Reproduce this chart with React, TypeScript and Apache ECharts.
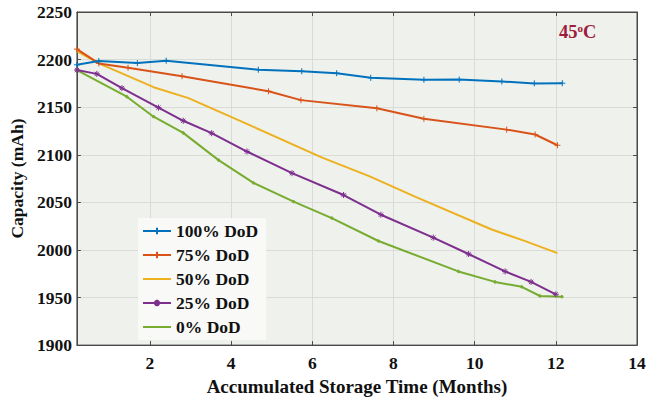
import React, { useEffect, useRef } from "react";
import * as echarts from "echarts";

const seriesNames = ["100% DoD", "75% DoD", "50% DoD", "25% DoD", "0% DoD"];
const seriesColors = ["#0072BD", "#D95319", "#EDB120", "#7E2F8E", "#77AC30"];

const dod100: [number, number][] = [
  [0.2, 2194.5], [0.74, 2198.5], [1.69, 2196.3], [2.4, 2198.8], [4.67, 2189.4],
  [5.74, 2187.7], [6.6, 2185.7], [7.44, 2180.8], [8.75, 2178.8], [9.62, 2179],
  [10.67, 2177], [11.47, 2175], [12.16, 2175.2],
];
const dod75: [number, number][] = [
  [0.2, 2211], [0.74, 2196], [1.46, 2191.5], [2.79, 2182.6], [4.92, 2166.7],
  [5.72, 2157.4], [7.59, 2148.8], [8.75, 2137.8], [10.79, 2126.4], [11.49, 2121.3],
  [12.04, 2110],
];
const dod50: [number, number][] = [
  [0.2, 2209], [0.74, 2196], [2.09, 2171], [2.95, 2159.5], [4.43, 2131.6],
  [6.23, 2097.2], [7.4, 2077.6], [8.53, 2056], [10.42, 2021.5], [11.23, 2009.5],
  [12.04, 1996.7],
];
const dod25: [number, number][] = [
  [0.2, 2189], [0.69, 2185], [1.31, 2170], [2.21, 2149.5], [2.82, 2135.7],
  [3.52, 2122.7], [4.39, 2103.4], [5.5, 2080.7], [6.77, 2057.7], [7.69, 2037],
  [8.98, 2012.9], [9.85, 1995.7], [10.75, 1977.4], [11.39, 1966.4], [12.0, 1953.4],
];
const dod0: [number, number][] = [
  [0.2, 2189], [1.43, 2161], [2.09, 2140], [2.82, 2123], [3.69, 2094.4],
  [4.55, 2070.4], [5.54, 2050.7], [6.48, 2033.5], [7.63, 2009.4], [9.6, 1977.4],
  [10.5, 1966.4], [11.16, 1961.2], [11.61, 1951.6], [12.15, 1950.9],
];
const xTicks = [2, 4, 6, 8, 10, 12, 14];

const allData = [dod100, dod75, dod50, dod25, dod0];

const PLUS = "path://M5,0 L5,10 M0,5 L10,5";
const STAR = "path://M5,0 L5,10 M0,5 L10,5 M1.5,1.5 L8.5,8.5 M8.5,1.5 L1.5,8.5";
const symbols = [PLUS, PLUS, "circle", STAR, "circle"];
const symbolSizes = [6, 6, 0, 6, 2.5];
const legendMarkerVisible = [true, true, false, true, false];

const FONT = "'Liberation Serif', 'Times New Roman', serif";

export default function App() {
  const ref = useRef<HTMLDivElement>(null);
  useEffect(() => {
    if (!ref.current) return;
    const chart = echarts.init(ref.current, undefined, { renderer: "svg" });
    const axisLine = { show: true, lineStyle: { color: "#4a4a4a", width: 1 } };
    chart.setOption({
      animation: false,
      backgroundColor: "#ffffff",
      grid: {
        left: 75, right: 24, top: 12, bottom: 50,
        show: true, backgroundColor: "#eef1ec", borderColor: "#4a4a4a", borderWidth: 1,
      },
      legend: {
        left: 138, top: 218, orient: "vertical",
        itemWidth: 28, itemHeight: 8, itemGap: 6,
        backgroundColor: "#f9faf8", padding: [4, 8, 4, 4],
        textStyle: { fontFamily: FONT, fontWeight: "bold", fontSize: 17.5, color: "#111" },
        data: seriesNames.map((n, i) => ({
          name: n,
          itemStyle: legendMarkerVisible[i] ? undefined : { opacity: 0 },
        })),
      },
      xAxis: [
        {
          type: "value", min: 0.2, max: 14, position: "bottom",
          name: "Accumulated Storage Time (Months)", nameLocation: "middle", nameGap: 29,
          nameTextStyle: { fontFamily: FONT, fontWeight: "bold", fontSize: 19, color: "#111" },
          axisLine,
          axisTick: { show: true, inside: true, length: 4, customValues: xTicks, lineStyle: { color: "#4a4a4a" } },
          axisLabel: { customValues: xTicks, fontFamily: FONT, fontWeight: "bold", fontSize: 17.5, color: "#111", margin: 9 },
          splitLine: { show: true, lineStyle: { color: "#d9dcd6", width: 1 } },
        },
        {
          type: "value", min: 0.2, max: 14, position: "top",
          axisLine,
          axisTick: { show: true, inside: true, length: 4, customValues: xTicks, lineStyle: { color: "#4a4a4a" } },
          axisLabel: { show: false, customValues: xTicks },
          splitLine: { show: false },
        },
      ],
      yAxis: [
        {
          type: "value", min: 1900, max: 2250, interval: 50, position: "left",
          name: "Capacity (mAh)", nameLocation: "middle", nameGap: 33,
          nameTextStyle: { fontFamily: FONT, fontWeight: "bold", fontSize: 17.5, color: "#111" },
          axisLine,
          axisTick: { show: true, inside: true, length: 4, lineStyle: { color: "#4a4a4a" } },
          axisLabel: {
            fontFamily: FONT, fontWeight: "bold", fontSize: 17.5, color: "#111", margin: 5,
            formatter: (v: number) => String(v),
          },
          splitLine: { show: true, lineStyle: { color: "#d9dcd6", width: 1 } },
        },
        {
          type: "value", min: 1900, max: 2250, interval: 50, position: "right",
          axisLine,
          axisTick: { show: true, inside: true, length: 4, lineStyle: { color: "#4a4a4a" } },
          axisLabel: { show: false },
          splitLine: { show: false },
        },
      ],
      graphic: [
        {
          type: "text", left: 559, top: 22,
          style: {
            text: "{n|45}{s|o}{n|C}",
            rich: {
              n: { fontFamily: FONT, fontWeight: "bold", fontSize: 18.5, fill: "#9e1b3b" },
              s: { fontFamily: FONT, fontWeight: "bold", fontSize: 11, fill: "#9e1b3b", verticalAlign: "top", padding: [0, 0, 8, 0] },
            },
          },
        },
      ],
      series: allData.map((d, i) => ({
        name: seriesNames[i],
        type: "line",
        xAxisIndex: 0,
        yAxisIndex: 0,
        data: d,
        symbol: symbols[i],
        symbolSize: symbolSizes[i],
        showSymbol: symbolSizes[i] > 0,
        lineStyle: { color: seriesColors[i], width: 2 },
        itemStyle: { color: seriesColors[i], borderColor: seriesColors[i], borderWidth: 1 },
        z: 10 - i,
      })),
    });
    return () => chart.dispose();
  }, []);
  return (
    <div
      ref={ref}
      style={{ position: "fixed", left: 0, top: 0, width: 661, height: 401 }}
    />
  );
}
